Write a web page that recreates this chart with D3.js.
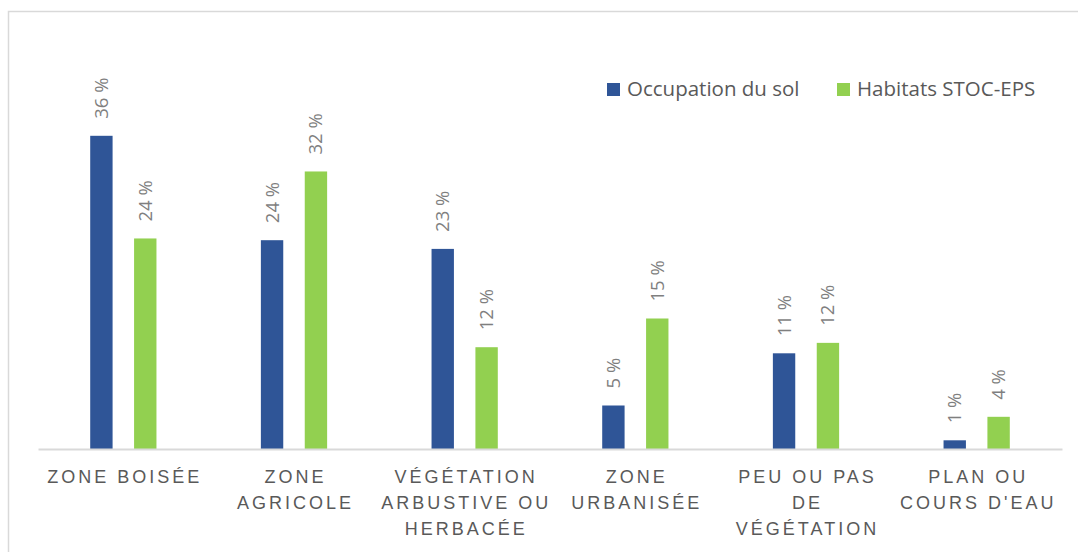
<!DOCTYPE html>
<html>
<head>
<meta charset="utf-8">
<script src="https://cdn.jsdelivr.net/npm/d3@7"></script>
<style>
  body { margin: 0; background: #fff; }
  svg { display: block; font-family: "Open Sans", sans-serif; }
</style>
</head>
<body>
<div id="myPlot"></div>
<script>
// Data
const categories = ["Zone boisée", "Zone agricole", "Végétation arbustive ou herbacée",
  "Zone urbanisée", "Peu ou pas de végétation", "Plan ou cours d'eau"];
const tickLines = [
  ["ZONE BOISÉE"],
  ["ZONE", "AGRICOLE"],
  ["VÉGÉTATION", "ARBUSTIVE OU", "HERBACÉE"],
  ["ZONE", "URBANISÉE"],
  ["PEU OU PAS", "DE", "VÉGÉTATION"],
  ["PLAN OU", "COURS D'EAU"]
];
const seriesNames = ["Occupation du sol", "Habitats STOC-EPS"];
const occupation = [36, 24, 23, 5, 11, 1];
const habitats = [24.2, 31.9, 11.7, 15, 12.2, 3.7];
const colors = ["#2F5597", "#92D050"];

// Dimensions
const width = 1078;
const height = 552;

const svg = d3.select("#myPlot")
  .append("svg")
  .attr("width", width)
  .attr("height", height);

// chart area border (runs off the right and bottom)
svg.append("rect")
  .attr("x", 8.5)
  .attr("y", 11.5)
  .attr("width", 1100)
  .attr("height", 600)
  .attr("fill", "none")
  .attr("stroke", "#d9d9d9")
  .attr("stroke-width", 1.5);

// Scales
const x0 = d3.scaleBand()
  .domain(categories)
  .range([38, 1062]);

const x1 = d3.scaleBand()
  .domain(seriesNames)
  .range([0, x0.bandwidth()])
  .paddingInner(0.49)
  .paddingOuter(1.19);

const y = d3.scaleLinear()
  .domain([0, 40])
  .range([449, 101]);

const rows = categories.map(function (c, i) {
  return { cat: c, values: [occupation[i], habitats[i]] };
});

// Bars
const groups = svg.append("g")
  .selectAll("g")
  .data(rows).enter()
  .append("g")
  .attr("transform", function (d) { return "translate(" + x0(d.cat) + ",0)"; });

groups.selectAll("rect")
  .data(function (d) { return d.values.map(function (v, j) { return { s: seriesNames[j], v: v, j: j }; }); })
  .enter()
  .append("rect")
  .attr("x", function (d) { return x1(d.s); })
  .attr("y", function (d) { return y(d.v); })
  .attr("width", x1.bandwidth())
  .attr("height", function (d) { return y(0) - y(d.v); })
  .attr("fill", function (d) { return colors[d.j]; });

// Data labels, rotated
groups.selectAll("text")
  .data(function (d) { return d.values.map(function (v, j) { return { s: seriesNames[j], v: v }; }); })
  .enter()
  .append("text")
  .attr("transform", function (d) {
    return "translate(" + (x1(d.s) + x1.bandwidth() / 2 + 6.5) + "," + (y(d.v) - 17) + ") rotate(-90)";
  })
  .attr("font-size", 18.5)
  .attr("fill", "#7f7f7f")
  .text(function (d) { return Math.round(d.v) + " %"; });

// X Axis
const xAxis = svg.append("g")
  .attr("transform", "translate(0," + y(0) + ")")
  .call(d3.axisBottom(x0).tickSize(0).tickFormat(""));

xAxis.select(".domain")
  .attr("stroke", "#d9d9d9")
  .attr("stroke-width", 2);

xAxis.selectAll(".tick text").remove();
xAxis.selectAll(".tick")
  .append("text")
  .attr("fill", "#595959")
  .attr("font-size", 18)
  .attr("letter-spacing", 3)
  .attr("text-anchor", "middle")
  .attr("y", 34)
  .selectAll("tspan")
  .data(function (d, i) { return tickLines[i]; })
  .enter()
  .append("tspan")
  .attr("x", 1.5)
  .attr("dy", function (d, i) { return i === 0 ? 0 : 26; })
  .text(function (d) { return d; });

// Legend
const legend = svg.append("g")
  .selectAll("g")
  .data(seriesNames).enter()
  .append("g")
  .attr("transform", function (d, i) { return "translate(" + [607, 837][i] + ",83)"; });

legend.append("rect")
  .attr("width", 13)
  .attr("height", 13)
  .attr("fill", function (d, i) { return colors[i]; });

legend.append("text")
  .attr("x", 20)
  .attr("y", 12.5)
  .attr("font-size", 20.5)
  .attr("fill", "#595959")
  .text(function (d) { return d; });
</script>
</body>
</html>
